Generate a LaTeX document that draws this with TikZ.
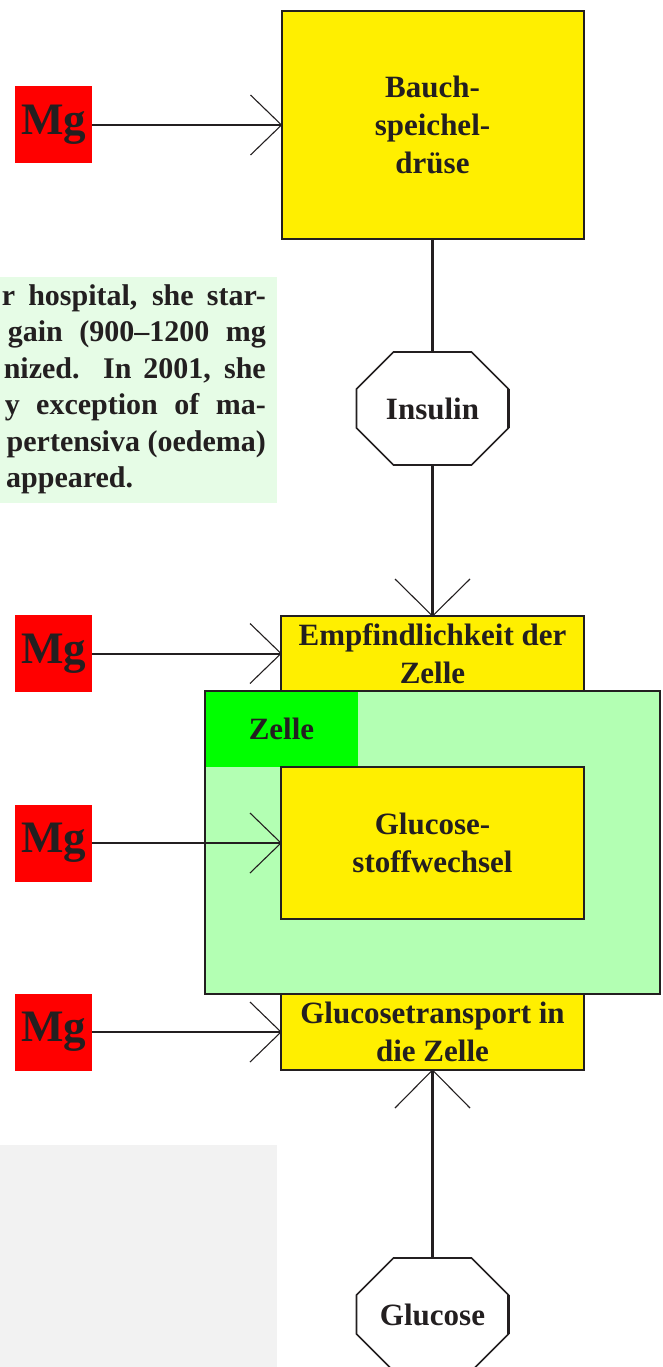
\documentclass[tikz,border=0pt]{standalone}
\usepackage{fontspec}
\setmainfont{Liberation Serif}
\definecolor{ink}{HTML}{231F20}
\definecolor{boxyellow}{HTML}{FFEF00}
\definecolor{mgred}{HTML}{FF0000}
\definecolor{cellgreen}{HTML}{B3FFB3}
\definecolor{labelgreen}{HTML}{00FF00}
\definecolor{notegreen}{HTML}{E6FCE6}
\definecolor{notegray}{HTML}{F2F2F2}
\begin{document}
\begin{tikzpicture}[x=1pt,y=-1pt,
  box/.style={draw=ink, line width=2pt, fill=boxyellow, inner sep=0pt, outer sep=0pt, align=center, text=ink, font=\bfseries\fontsize{31}{38}\selectfont},
  mg/.style={fill=mgred, minimum width=77pt, minimum height=77pt, inner sep=0pt, outer sep=0pt, text=ink, font=\bfseries\fontsize{45}{45}\selectfont},
  octnode/.style={minimum width=152pt, minimum height=113pt, inner sep=0pt, outer sep=0pt, text=ink, font=\bfseries\fontsize{31}{38}\selectfont},
  octline/.style={draw=ink, line width=1.6pt, line join=miter},
  octside/.style={draw=ink, line width=3pt},
  hconn/.style={draw=ink, line width=2pt},
  vconn/.style={draw=ink, line width=3pt},
  wing/.style={draw=ink, line width=1.1pt},
  note/.style={anchor=base east, inner sep=0pt, text=ink, font=\bfseries\fontsize{30}{36}\selectfont}
]
\useasboundingbox (0,0) rectangle (663,1367);

% note panels
\begin{scope}
  \clip (0,277) rectangle (277,503);
  \fill[notegreen] (0,277) rectangle (277,503);
  \node[note] (n1) at (266,305) {\makebox[264pt][s]{r hospital, she star-}};
  \node[note] (n2) at (266,341.5) {\makebox[258pt][s]{gain (900–1200 mg}};
  \node[note] (n3) at (266,378) {\makebox[262pt][s]{nized. In 2001, she}};
  \node[note] (n4) at (266,414.5) {\makebox[261pt][s]{y exception of ma-}};
  \node[note] (n5) at (266,451) {pertensiva (oedema)};
  \node[note, anchor=base west] (n6) at (6,487.5) {appeared.};
\end{scope}
\fill[notegray] (0,1145) rectangle (277,1367);

% cell
\node[fill=cellgreen, minimum width=455pt, minimum height=303pt, inner sep=0pt, outer sep=0pt] (zelle) at (432.5,842.5) {};
\node[fill=labelgreen, minimum width=153pt, minimum height=76pt, inner sep=0pt, outer sep=0pt, anchor=north west, text=ink, font=\bfseries\fontsize{31}{38}\selectfont] (zlabel) at (zelle.north west) {Zelle};
\draw[ink, line width=2pt] (zelle.north west) rectangle (zelle.south east);

% yellow boxes
\node[box, minimum width=302pt, minimum height=228pt] (bauch) at (432.5,125) {Bauch-\\speichel-\\drüse};
\node[box, minimum width=303pt, minimum height=75pt] (empf) at (432.5,653.5) {Empfindlichkeit der\\Zelle};
\node[box, minimum width=303pt, minimum height=152pt] (stoff) at (432.5,843) {Glucose-\\stoffwechsel};
\node[box, minimum width=303pt, minimum height=76pt] (trans) at (432.5,1032) {Glucosetransport in\\die Zelle};

% Mg boxes
\node[mg] (mg1) at (53.5,125) {Mg};
\node[mg] (mg2) at (53.5,653.5) {Mg};
\node[mg] (mg3) at (53.5,843) {Mg};
\node[mg] (mg4) at (53.5,1032) {Mg};

% octagons
\node[octnode] (ins) at (432.5,408.5) {Insulin};
\draw[octline] ([xshift=37pt]ins.north west) -- ([xshift=-37pt]ins.north east) -- ([yshift=-37pt]ins.north east) -- ([yshift=37pt]ins.south east) -- ([xshift=-37pt]ins.south east) -- ([xshift=37pt]ins.south west) -- ([yshift=37pt]ins.south west) -- ([yshift=-37pt]ins.north west) -- cycle;
\draw[octside] ([yshift=-37pt]ins.north east) -- ([yshift=37pt]ins.south east);
\node[octnode] (glu) at (432.5,1314.5) {Glucose};
\draw[octline] ([xshift=37pt]glu.north west) -- ([xshift=-37pt]glu.north east) -- ([yshift=-37pt]glu.north east) -- ([yshift=37pt]glu.south east) -- ([xshift=-37pt]glu.south east) -- ([xshift=37pt]glu.south west) -- ([yshift=37pt]glu.south west) -- ([yshift=-37pt]glu.north west) -- cycle;
\draw[octside] ([yshift=-37pt]glu.north east) -- ([yshift=37pt]glu.south east);

% horizontal connectors
\draw[hconn] (mg1) -- (bauch);
\draw[wing] ([shift={(-31,-30)}]bauch.west) -- (bauch.west) -- ([shift={(-31,30)}]bauch.west);
\draw[hconn] (mg2) -- (empf);
\draw[wing] ([shift={(-31,-30)}]empf.west) -- (empf.west) -- ([shift={(-31,30)}]empf.west);
\draw[hconn] (mg3) -- (stoff);
\draw[wing] ([shift={(-31,-30)}]stoff.west) -- (stoff.west) -- ([shift={(-31,30)}]stoff.west);
\draw[hconn] (mg4) -- (trans);
\draw[wing] ([shift={(-31,-30)}]trans.west) -- (trans.west) -- ([shift={(-31,30)}]trans.west);

% vertical connectors
\draw[vconn] (bauch) -- (ins);
\draw[vconn] (ins) -- (empf);
\draw[wing] ([shift={(-37.5,-37)}]empf.north) -- (empf.north) -- ([shift={(37.5,-37)}]empf.north);
\draw[vconn] (glu) -- (trans);
\draw[wing] ([shift={(-37.5,38)}]trans.south) -- (trans.south) -- ([shift={(37.5,38)}]trans.south);
\end{tikzpicture}
\end{document}
